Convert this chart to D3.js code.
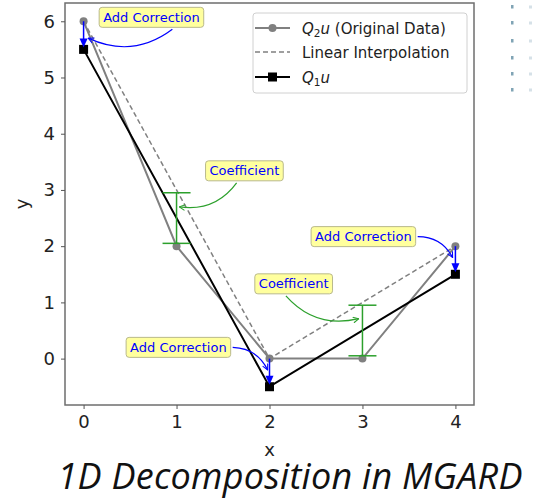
<!DOCTYPE html>
<html>
<head>
<meta charset="utf-8">
<script src="https://cdn.jsdelivr.net/npm/d3@7"></script>
<style>
  html, body { margin: 0; padding: 0; background: #fff; }
  svg { display: block; }
</style>
</head>
<body>
<svg id="chart" width="538" height="500"></svg>
<script>
// Node positions and the two levels of the 1D decomposition
const xs = [0, 1, 2, 3, 4];
const q2u = [6, 2, 0, 0, 2];          // original data
const coarseX = [0, 2, 4];
const interp = [6, 0, 2];             // linear interpolation through the coarse nodes
const q1u = [5.5, -0.5, 1.5];         // corrected coarse values

// Coefficients at the odd nodes (low, high)
const coefX = [1, 3];
const coefLow = [2.05, 0.05];
const coefHigh = [2.95, 0.95];

// Annotation labels: text anchor and arrow target in data units, plus arc bend
const noteText = ["Add Correction", "Coefficient", "Add Correction", "Add Correction", "Coefficient"];
const noteKind = ["corr", "coef", "corr", "corr", "coef"];
const noteTextX = [0.73, 1.73, 1.02, 3.01, 2.26];
const noteTextY = [6.07, 3.34, 0.20, 2.17, 1.33];
const noteTipX = [0.05, 1.03, 1.98, 3.97, 2.96];
const noteTipY = [5.70, 2.70, -0.20, 1.80, 0.71];
const noteRad = [0.3, 0.3, 0.3, 0.3, -0.3];

const xTicks = [0, 1, 2, 3, 4];
const yTicks = [0, 1, 2, 3, 4, 5, 6];

const svg = d3.select("#chart");
const L = 65, R = 474, T = 3, B = 405;
const x = d3.scaleLinear().domain([-0.2, 4.2]).range([L, R]);
const y = d3.scaleLinear().domain([-0.825, 6.325]).range([B, T]);

const BLUE = "#0000ff", GREEN = "#2ca02c", GRAY = "#808080";

// arrowhead markers
const defs = svg.append("defs");
function openHead(id, color) {
  defs.append("marker").attr("id", id)
    .attr("viewBox", "0 0 10 10").attr("refX", 9).attr("refY", 5)
    .attr("markerWidth", 7).attr("markerHeight", 7).attr("markerUnits", "userSpaceOnUse")
    .attr("orient", "auto")
    .append("path").attr("d", "M1,1 L9,5 L1,9").attr("fill", "none")
    .attr("stroke", color).attr("stroke-width", 1.5);
}
openHead("headBlue", BLUE);
openHead("headGreen", GREEN);

// plot frame
svg.append("rect").attr("x", L).attr("y", T).attr("width", R - L).attr("height", B - T)
  .attr("fill", "#fff").attr("stroke", "#6e6e6e").attr("stroke-width", 1.5);

// axes
const xAxis = svg.append("g").attr("transform", `translate(0,${B})`)
  .call(d3.axisBottom(x).tickValues(xTicks).tickFormat(d3.format("d")).tickSize(4).tickPadding(6));
const yAxis = svg.append("g").attr("transform", `translate(${L},0)`)
  .call(d3.axisLeft(y).tickValues(yTicks).tickFormat(d3.format("d")).tickSize(4).tickPadding(6));
[xAxis, yAxis].forEach(g => {
  g.select(".domain").remove();
  g.selectAll(".tick line").attr("stroke", "#555").attr("stroke-width", 1);
  g.selectAll(".tick text").attr("font-family", "DejaVu Sans").attr("font-size", 18).attr("fill", "#222");
});

svg.append("text").attr("x", (L + R) / 2).attr("y", 456).attr("text-anchor", "middle")
  .attr("font-family", "DejaVu Sans").attr("font-size", 18).attr("fill", "#222").text("x");
svg.append("text").attr("transform", `translate(28,${(T + B) / 2}) rotate(-90)`).attr("text-anchor", "middle")
  .attr("font-family", "DejaVu Sans").attr("font-size", 18).attr("fill", "#222").text("y");

const plot = svg.append("g");
const line = d3.line().x(d => x(d[0])).y(d => y(d[1]));

// linear interpolation (dashed)
plot.append("path").datum(coarseX.map((v, i) => [v, interp[i]])).attr("d", line)
  .attr("fill", "none").attr("stroke", GRAY).attr("stroke-width", 1.5).attr("stroke-dasharray", "5,3");

// original data
plot.append("path").datum(xs.map((v, i) => [v, q2u[i]])).attr("d", line)
  .attr("fill", "none").attr("stroke", GRAY).attr("stroke-width", 2);
plot.selectAll("circle.q2").data(xs.map((v, i) => [v, q2u[i]])).join("circle")
  .attr("class", "q2").attr("cx", d => x(d[0])).attr("cy", d => y(d[1])).attr("r", 4).attr("fill", GRAY);

// coarse level
plot.append("path").datum(coarseX.map((v, i) => [v, q1u[i]])).attr("d", line)
  .attr("fill", "none").attr("stroke", "#000").attr("stroke-width", 2);
plot.selectAll("rect.q1").data(coarseX.map((v, i) => [v, q1u[i]])).join("rect")
  .attr("class", "q1").attr("x", d => x(d[0]) - 4.5).attr("y", d => y(d[1]) - 4.5)
  .attr("width", 9).attr("height", 9).attr("fill", "#000");

// coefficient bars
coefX.forEach((cx, i) => {
  const g = plot.append("g").attr("stroke", GREEN).attr("stroke-width", 1.5);
  const px = x(cx), y0 = y(coefLow[i]), y1 = y(coefHigh[i]);
  g.append("line").attr("x1", px).attr("x2", px).attr("y1", y0).attr("y2", y1);
  g.append("line").attr("x1", px - 14).attr("x2", px + 14).attr("y1", y0).attr("y2", y0);
  g.append("line").attr("x1", px - 14).attr("x2", px + 14).attr("y1", y1).attr("y2", y1);
});

// correction arrows from original value down to corrected value
coarseX.forEach((cx, i) => {
  const px = x(cx), y0 = y(interp[i]), y1 = y(q1u[i]) - 2;
  plot.append("line").attr("x1", px).attr("x2", px).attr("y1", y0).attr("y2", y1 - 8)
    .attr("stroke", BLUE).attr("stroke-width", 1.5);
  plot.append("path").attr("d", `M${px - 4},${y1 - 9} L${px + 4},${y1 - 9} L${px},${y1} Z`).attr("fill", BLUE);
});

// labelled annotations
const notes = svg.append("g");
noteText.forEach((t, i) => {
  const tx = x(noteTextX[i]), ty = y(noteTextY[i]);
  const g = notes.append("g");
  const label = g.append("text").attr("x", tx).attr("y", ty + 4.5).attr("text-anchor", "middle")
    .attr("font-family", "DejaVu Sans").attr("font-size", 13).attr("fill", BLUE).text(t);
  const w = label.node().getComputedTextLength();
  const bx = tx - w / 2 - 4, by = ty - 10, bw = w + 8, bh = 20;
  g.insert("rect", "text").attr("x", bx).attr("y", by).attr("width", bw).attr("height", bh)
    .attr("rx", 3).attr("fill", "#ffff9e").attr("stroke", "#b9b98c").attr("stroke-width", 1);

  // arc from the box edge to the target
  const ex = x(noteTipX[i]), ey = y(noteTipY[i]);
  let sx, sy;
  if (noteKind[i] === "corr" && ex > tx + bw / 2) { sx = bx + bw + 2; sy = ty; }
  else { sx = tx - bw * 0.1 + (i === 0 ? bw * 0.3 : 0); sy = by + bh + 2; }
  const mx = (sx + ex) / 2, my = (sy + ey) / 2, dx = ex - sx, dy = ey - sy, r = noteRad[i];
  const cpx = mx + r * dy, cpy = my - r * dx;
  const color = noteKind[i] === "corr" ? BLUE : GREEN;
  g.append("path").attr("d", `M${sx},${sy} Q${cpx},${cpy} ${ex},${ey}`)
    .attr("fill", "none").attr("stroke", color).attr("stroke-width", 1.2)
    .attr("marker-end", `url(#${noteKind[i] === "corr" ? "headBlue" : "headGreen"})`);
});

// legend
const lg = svg.append("g");
lg.append("rect").attr("x", 253).attr("y", 13).attr("width", 214).attr("height", 80).attr("rx", 3)
  .attr("fill", "#fff").attr("stroke", "#d0d0d0").attr("stroke-width", 1);
const rowY = [28, 52, 77];
lg.append("line").attr("x1", 255).attr("x2", 290).attr("y1", rowY[0]).attr("y2", rowY[0]).attr("stroke", GRAY).attr("stroke-width", 2);
lg.append("circle").attr("cx", 272.5).attr("cy", rowY[0]).attr("r", 4).attr("fill", GRAY);
lg.append("line").attr("x1", 255).attr("x2", 290).attr("y1", rowY[1]).attr("y2", rowY[1]).attr("stroke", GRAY)
  .attr("stroke-width", 1.5).attr("stroke-dasharray", "5,3");
lg.append("line").attr("x1", 255).attr("x2", 290).attr("y1", rowY[2]).attr("y2", rowY[2]).attr("stroke", "#000").attr("stroke-width", 2);
lg.append("rect").attr("x", 268).attr("y", rowY[2] - 4.5).attr("width", 9).attr("height", 9).attr("fill", "#000");

function legendText(yy) {
  return lg.append("text").attr("x", 302).attr("y", yy + 5.5).attr("font-family", "DejaVu Sans")
    .attr("font-size", 15).attr("fill", "#222");
}
const t1 = legendText(rowY[0]);
t1.append("tspan").attr("font-style", "italic").text("Q");
t1.append("tspan").attr("font-size", 10.5).attr("dy", 3).text("2");
t1.append("tspan").attr("font-style", "italic").attr("dy", -3).text("u");
t1.append("tspan").text(" (Original Data)");
legendText(rowY[1]).text("Linear Interpolation");
const t3 = legendText(rowY[2]);
t3.append("tspan").attr("font-style", "italic").text("Q");
t3.append("tspan").attr("font-size", 10.5).attr("dy", 3).text("1");
t3.append("tspan").attr("font-style", "italic").attr("dy", -3).text("u");

// title
svg.append("text").attr("x", 290).attr("y", 489).attr("text-anchor", "middle")
  .attr("font-family", "Open Sans").attr("font-style", "italic").attr("font-size", 36)
  .attr("textLength", 465).attr("lengthAdjust", "spacing")
  .attr("fill", "#111").text("1D Decomposition in MGARD");

// faint slide-edge dots
const dotRows = [7, 23, 41, 58, 74, 90];
const dots = svg.append("g");
dotRows.forEach(dy => {
  dots.append("rect").attr("x", 511).attr("y", dy - 2).attr("width", 2.5).attr("height", 3.5).attr("fill", "#4a7d96").attr("opacity", 0.7);
  dots.append("rect").attr("x", 529).attr("y", dy - 1.5).attr("width", 3).attr("height", 3).attr("fill", "#c4d4de").attr("opacity", 0.7);
});
</script>
</body>
</html>
